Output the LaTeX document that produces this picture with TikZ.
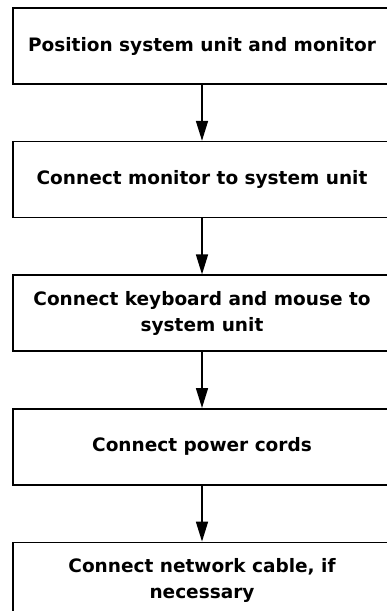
\documentclass[tikz,border=0pt]{standalone}
\usepackage{fontspec}
\setmainfont{DejaVu Sans}
\usepackage{tikz}
\usetikzlibrary{arrows.meta,positioning}
\tikzset{
	setup chart/.style={
		x=1pt, y=1pt,
		node distance=56pt,
		ar/.style={-{Triangle[length=20pt,width=12pt]},line width=1.6pt},
		},
	stepbox/.style={draw, line width=1.6pt, minimum width=378pt, minimum height=76pt,
		inner sep=0pt, align=center,
		font=\bfseries\fontsize{18.5}{26}\selectfont},
}

\begin{document}
\begin{tikzpicture}[setup chart]
   \useasboundingbox (0,0) rectangle (386,-611);
   \node[stepbox] (place) at (202,-46) {Position system unit and monitor};
   \node[stepbox, below=of place] (monitor) {Connect monitor to system unit};
   \node[stepbox, below=of monitor] (keys) {Connect keyboard and mouse to\\system unit};
   \node[stepbox, below=of keys] (power) {Connect power cords};
   \node[stepbox, below=of power] (network) {Connect network cable, if\\necessary};
   \draw[ar] (place) -- (monitor);
   \draw[ar] (monitor) -- (keys);
   \draw[ar] (keys) -- (power);
   \draw[ar] (power) -- (network);
\end{tikzpicture}
\end{document}
